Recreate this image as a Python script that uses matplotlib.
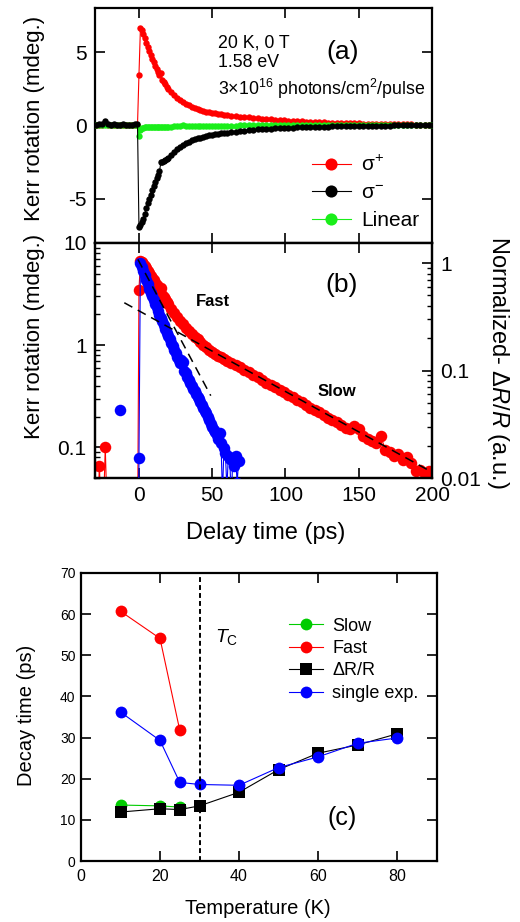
import numpy as np
import matplotlib
matplotlib.use("Agg")
import matplotlib.pyplot as plt
from matplotlib.ticker import LogLocator, NullFormatter

plt.rcParams['font.family'] = ['Liberation Sans', 'DejaVu Sans']
plt.rcParams['mathtext.fontset'] = 'custom'
plt.rcParams['mathtext.rm'] = 'Liberation Sans'
plt.rcParams['mathtext.it'] = 'Liberation Sans:italic'
plt.rcParams['mathtext.bf'] = 'Liberation Sans:bold'
plt.rcParams['axes.unicode_minus'] = False

# ---------------- data: panel (a) / (b) time-resolved Kerr ----------------
t_pre = [-29, -27, -25, -23, -21, -19, -17, -15, -13, -11, -9, -7, -5, -3, -1]
t_main = list(range(0, 21)) + list(range(22, 61, 2)) + list(range(63, 199, 3)) + [200]
t_a = t_pre + t_main

sigma_plus = ([0.01, 0.066, 0.01, 0.1, 0.01, 0.02, 0.01, 0.02, 0.01, 0.02, 0.01, 0.02, 0.01, 0.02, 0.01]
              + [3.45, 6.62, 6.5, 6.25, 5.95, 5.65, 5.35, 5.05, 4.8, 4.55, 4.3, 4.08, 3.85, 3.65, 3.45,
                 3.6, 3.1, 2.95, 2.8, 2.65, 2.5]
              + [2.25, 2.05, 1.88, 1.72, 1.6, 1.48, 1.38, 1.29, 1.21, 1.14, 1.07, 1.0, 0.95, 0.9, 0.86,
                 0.82, 0.79, 0.76, 0.73, 0.70]
              + [0.67, 0.64, 0.61, 0.575, 0.545, 0.51, 0.485, 0.455, 0.43, 0.41,
                 0.385, 0.365, 0.345, 0.325, 0.31, 0.29, 0.275, 0.26, 0.245, 0.23,
                 0.22, 0.205, 0.195, 0.185, 0.175, 0.165, 0.155, 0.15, 0.16, 0.15,
                 0.13, 0.12, 0.115, 0.11, 0.13, 0.095, 0.09, 0.083, 0.085, 0.075,
                 0.08, 0.07, 0.058, 0.06, 0.055, 0.058]
              + [0.056])

sigma_minus = ([0.05, 0.1, 0.08, 0.3, 0.1, 0.05, 0.08, 0.06, 0.05, 0.07, 0.05, 0.06, 0.05, 0.08, 0.1]
               + [-6.9, -6.8, -6.6, -6.35, -6.0, -5.65, -5.3, -5.0, -4.7, -4.4, -4.1, -3.85, -3.6, -3.35,
                  -3.1, -2.5, -2.5, -2.45, -2.38, -2.3, -2.2]
               + [-2.0, -1.8, -1.62, -1.46, -1.32, -1.2, -1.1, -1.02, -0.95, -0.88, -0.82, -0.77, -0.72,
                  -0.68, -0.64, -0.6, -0.57, -0.54, -0.51, -0.48]
               + [-0.45, -0.42, -0.39, -0.36, -0.33, -0.3, -0.27, -0.25, -0.23, -0.21,
                  -0.19, -0.18, -0.16, -0.15, -0.14, -0.13, -0.12, -0.11, -0.1, -0.09,
                  -0.08, -0.08, -0.07, -0.06, -0.06, -0.05, -0.05, -0.04, -0.04, -0.03,
                  -0.03, -0.02, -0.02, -0.02, -0.01, -0.01, -0.01, 0.0, 0.0, 0.0,
                  0.01, 0.01, 0.01, 0.02, 0.02, 0.02]
               + [0.02])

linear = ([0.0, 0.02, 0.0, 0.03, 0.01, 0.0, 0.02, 0.0, 0.01, 0.0, 0.02, 0.0, 0.01, 0.0, 0.0]
          + [-0.7, -0.3, -0.2, -0.15, -0.13, -0.12, -0.12, -0.11, -0.11, -0.1, -0.1, -0.1, -0.09, -0.09,
             -0.09, -0.08, -0.08, -0.08, -0.08, -0.07, -0.07]
          + [-0.07, -0.06, -0.06, -0.05, 0.05, -0.05, -0.04, -0.04, -0.04, -0.03, -0.03, -0.03, -0.03,
             -0.02, -0.02, -0.02, -0.02, -0.01, -0.01, -0.01]
          + [-0.01, -0.01, 0.0, 0.0, 0.0, 0.0, 0.01, 0.01, 0.01, 0.01,
             0.02, 0.02, 0.02, 0.02, 0.02, 0.03, 0.03, 0.03, 0.03, 0.03,
             0.03, 0.04, 0.04, 0.04, 0.04, 0.04, 0.04, 0.04, 0.05, 0.05,
             0.05, 0.05, 0.05, 0.05, 0.05, 0.05, 0.05, 0.05, 0.05, 0.05,
             0.05, 0.05, 0.05, 0.05, 0.05, 0.05]
          + [0.05])

# normalized dR/R (right axis of panel b)
t_dr = [-13, -12, -0.5, 0] + list(range(1, 69))
dr_norm = ([0.0433, np.nan, 0.001, 0.0155]
           + [1.0, 0.93, 0.85, 0.77, 0.7, 0.64, 0.58, 0.53, 0.49, 0.45,
              0.42, 0.39, 0.36, 0.33, 0.31, 0.29, 0.265, 0.245, 0.225, 0.21,
              0.195, 0.18, 0.168, 0.156, 0.145, 0.135, 0.126, 0.118, 0.125, 0.12,
              0.1, 0.094, 0.088, 0.082, 0.077, 0.072, 0.068, 0.064, 0.06, 0.057,
              0.054, 0.051, 0.048, 0.045, 0.042, 0.04, 0.037, 0.035, 0.032, 0.03,
              0.028, 0.027, 0.025, 0.023, 0.026, 0.021, 0.007, 0.019, 0.017, 0.008,
              0.016, 0.015, 0.006, 0.015, 0.013, 0.016, 0.009, 0.0145])

# exponential fits (dashed), Kerr units
fast_fit_t = [-0.7, 49]
fast_fit_v = [6.9, 0.32]
slow_fit_t = [-10, 200]
slow_fit_v = [2.6, 0.057]

# ---------------- data: panel (c) ----------------
T_all = [10, 20, 25, 30, 40, 50, 60, 70, 80]
T_low = [10, 20, 25]
slow_tau = [13.6, 13.4, 13.1]
fast_tau = [60.7, 54.1, 31.8]
drr_tau = [11.9, 12.7, 12.5, 13.4, 16.7, 22.2, 26.2, 28.2, 30.9]
single_tau = [36.2, 29.3, 19.1, 18.6, 18.4, 22.7, 25.3, 28.6, 29.9]
Tc = 30

W, H = 520, 922
fig = plt.figure(figsize=(W / 100, H / 100), dpi=100)

def box(l, r, t, b):
    return [l / W, 1 - b / H, (r - l) / W, (b - t) / H]

RED = '#ff0000'
GREEN_A = '#1aee1a'
BLUE = '#0000ff'

# ---------------- panel (a) ----------------
ax_a = fig.add_axes(box(95, 432, 8, 243))
ax_a.plot(t_a, sigma_plus, '-o', color=RED, lw=0.8, ms=4.6, mew=0, label='σ$^{+}$', zorder=2)
ax_a.plot(t_a, linear, '-o', color=GREEN_A, lw=0.8, ms=4.6, mew=0, label='Linear', zorder=3)
ax_a.plot(t_a, sigma_minus, '-o', color='black', lw=0.8, ms=4.6, mew=0, label='σ$^{-}$', zorder=4)
ax_a.set_xlim(-30, 200)
ax_a.set_ylim(-8, 8)
ax_a.set_yticks([-5, 0, 5])
ax_a.set_xticks([0, 50, 100, 150, 200])
ax_a.tick_params(direction='in', length=7, width=1.2, top=True, right=True,
                 labelbottom=False, labelsize=15, pad=6)
h, l = ax_a.get_legend_handles_labels()
order = [0, 2, 1]
ax_a.legend([h[i] for i in order], [l[i] for i in order], loc='upper left',
            bbox_to_anchor=(0.644, 0.375), frameon=False, fontsize=15, markerscale=1.9,
            handlelength=1.85, handletextpad=0.5, borderpad=0, borderaxespad=0, labelspacing=0.42)
ax_a.text(0.365, 0.851, '20 K, 0 T', transform=ax_a.transAxes, fontsize=12.8, va='center')
ax_a.text(0.365, 0.766, '1.58 eV', transform=ax_a.transAxes, fontsize=12.8, va='center')
ax_a.text(0.365, 0.655, '3×10$^{16}$ photons/cm$^{2}$/pulse', transform=ax_a.transAxes,
          fontsize=12.8, va='center')
ax_a.text(0.734, 0.814, '(a)', transform=ax_a.transAxes, fontsize=19, ha='center', va='center')

# ---------------- panel (b) ----------------
ax_b = fig.add_axes(box(95, 432, 243, 478))
ax_b.set_yscale('log')
ax_b.plot(t_a, sigma_plus, '-o', color=RED, lw=0.8, ms=8.3, mew=0, zorder=2)
ax_b.set_xlim(-30, 200)
ax_b.set_ylim(0.05, 10)
ax_b.set_yticks([0.1, 1, 10])
ax_b.set_yticklabels(['0.1', '1', '10'])
ax_b.yaxis.set_minor_locator(LogLocator(base=10, subs=np.arange(2, 10)))
ax_b.yaxis.set_minor_formatter(NullFormatter())
ax_b.set_xticks([0, 50, 100, 150, 200])
ax_b.tick_params(which='major', direction='in', length=7, width=1.2, top=True, right=False,
                 labelsize=15, pad=6)
ax_b.tick_params(which='minor', direction='in', length=3.5, width=1.0, right=False)

ax_r = ax_b.twinx()
ax_r.set_yscale('log')
ax_r.plot(t_dr, dr_norm, '-o', color=BLUE, lw=0.8, ms=8.3, mew=0, zorder=3)
ax_r.plot(fast_fit_t, fast_fit_v, '--', color='black', lw=1.1, dashes=(6, 4),
          transform=ax_b.transData, zorder=5)
ax_r.plot(slow_fit_t, slow_fit_v, '--', color='black', lw=1.1, dashes=(6, 4),
          transform=ax_b.transData, zorder=5)
ax_r.set_xlim(-30, 200)
ax_r.set_ylim(0.01, 1.54)
ax_r.set_yticks([0.01, 0.1, 1])
ax_r.set_yticklabels(['0.01', '0.1', '1'])
ax_r.yaxis.set_minor_locator(LogLocator(base=10, subs=np.arange(2, 10)))
ax_r.yaxis.set_minor_formatter(NullFormatter())
ax_r.tick_params(which='major', direction='in', length=7, width=1.2, labelsize=15, pad=6)
ax_r.tick_params(which='minor', direction='in', length=3.5, width=1.0)
ax_b.text(0.733, 0.821, '(b)', transform=ax_b.transAxes, fontsize=19, ha='center', va='center')
ax_b.text((213 - 95) / 337, (478 - 302) / 235, 'Fast', transform=ax_b.transAxes, fontsize=12,
          fontweight='bold', ha='center', va='center')
ax_b.text((337 - 95) / 337, (478 - 392) / 235, 'Slow', transform=ax_b.transAxes, fontsize=12,
          fontweight='bold', ha='center', va='center')

for ax in (ax_a, ax_b, ax_r):
    for s in ax.spines.values():
        s.set_linewidth(1.6)

fig.text(35 / W, 1 - 118 / H, 'Kerr rotation (mdeg.)', rotation=90, ha='center', va='center', fontsize=16)
fig.text(35 / W, 1 - 336 / H, 'Kerr rotation (mdeg.)', rotation=90, ha='center', va='center', fontsize=16)
fig.text(498 / W, 1 - 362 / H, 'Normalized- Δ$R$/$R$ (a.u.)', rotation=-90, ha='center', va='center',
         fontsize=17)
fig.text(266 / W, 1 - 533 / H, 'Delay time (ps)', ha='center', va='center', fontsize=17)

# ---------------- panel (c) ----------------
ax_c = fig.add_axes(box(81, 436.5, 573, 861))
ax_c.plot(T_low, slow_tau, '-o', color='#00cc00', lw=0.8, ms=8.5, mew=0, label='Slow')
ax_c.plot(T_low, fast_tau, '-o', color=RED, lw=0.8, ms=8.5, mew=0, label='Fast')
ax_c.plot(T_all, drr_tau, '-s', color='black', lw=0.8, ms=8.5, mew=0, label='ΔR/R')
ax_c.plot(T_all, single_tau, '-o', color=BLUE, lw=0.8, ms=8.5, mew=0, label='single exp.')
ax_c.axvline(Tc, color='black', lw=1.4, ls='--', dashes=(2.5, 1.6))
ax_c.set_xlim(0, 90)
ax_c.set_ylim(0, 70)
ax_c.set_xticks([0, 20, 40, 60, 80])
ax_c.set_yticks(range(0, 71, 10))
ax_c.tick_params(axis='x', direction='in', length=7, width=1.2, top=True, labelsize=11.5, pad=6)
ax_c.tick_params(axis='y', direction='in', length=7, width=1.2, right=True, labelsize=10, pad=4)
for s in ax_c.spines.values():
    s.set_linewidth(1.6)
ax_c.legend(loc='upper left', bbox_to_anchor=(0.585, 0.845), frameon=False, fontsize=13,
            handlelength=1.9, handletextpad=0.5, borderpad=0, borderaxespad=0, labelspacing=0.3)
ax_c.text(33.9, 54.4, '$T_{\\mathrm{C}}$', fontsize=14, va='center', ha='left')
ax_c.text(66, 10.5, '(c)', fontsize=18, ha='center', va='center')
fig.text(26.7 / W, 1 - 715 / H, 'Decay time (ps)', rotation=90, ha='center', va='center', fontsize=14.5)
fig.text(258 / W, 1 - 908 / H, 'Temperature (K)', ha='center', va='center', fontsize=14.5)

fig.savefig('out.png', dpi=100)
